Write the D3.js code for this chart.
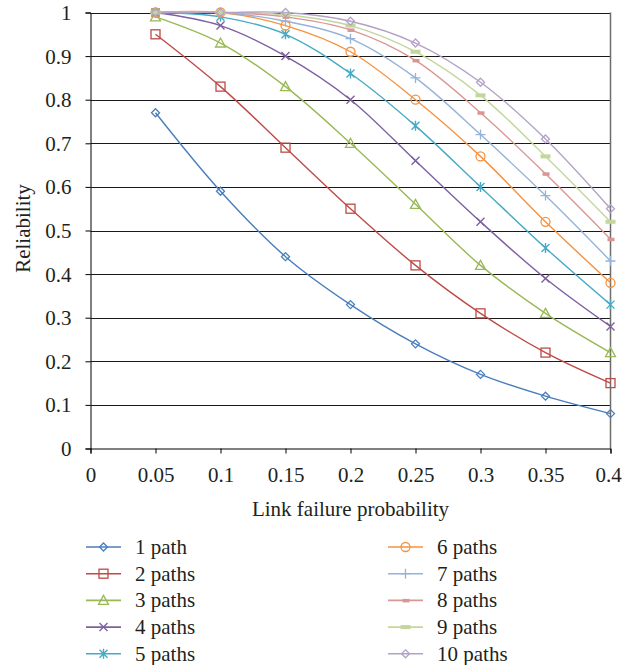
<!DOCTYPE html>
<html><head><meta charset="utf-8">
<script src="https://cdn.jsdelivr.net/npm/d3@7"></script>
<style>body{margin:0;background:#fff}text{font-family:"Liberation Serif","DejaVu Serif",serif;fill:#231f20}</style>
</head><body><svg id="c" width="622" height="665"></svg>
<script>
const xValues = [0.05,0.1,0.15,0.2,0.25,0.3,0.35,0.4];
const seriesNames = ["1 path","2 paths","3 paths","4 paths","5 paths","6 paths","7 paths","8 paths","9 paths","10 paths"];
const s1 = [0.77,0.59,0.44,0.33,0.24,0.17,0.12,0.08];
const s2 = [0.95,0.83,0.69,0.55,0.42,0.31,0.22,0.15];
const s3 = [0.99,0.93,0.83,0.70,0.56,0.42,0.31,0.22];
const s4 = [1.0,0.97,0.90,0.80,0.66,0.52,0.39,0.28];
const s5 = [1.0,0.99,0.95,0.86,0.74,0.60,0.46,0.33];
const s6 = [1.0,1.0,0.97,0.91,0.80,0.67,0.52,0.38];
const s7 = [1.0,1.0,0.98,0.94,0.85,0.72,0.58,0.43];
const s8 = [1.0,1.0,0.99,0.96,0.89,0.77,0.63,0.48];
const s9 = [1.0,1.0,0.995,0.97,0.91,0.81,0.67,0.52];
const s10 = [1.0,1.0,1.0,0.98,0.93,0.84,0.71,0.55];
const seriesValues = [s1,s2,s3,s4,s5,s6,s7,s8,s9,s10];
const xTicks = [0,0.05,0.1,0.15,0.2,0.25,0.3,0.35,0.4];
const yTicks = [0,0.1,0.2,0.3,0.4,0.5,0.6,0.7,0.8,0.9,1];
const colors = ["#4a7ebb","#be4b48","#98b954","#7d60a0","#46aac5","#f69240","#95b3d7","#d99694","#c3d69b","#b3a2c7"];
const markers = ["diamond","square","triangle","x","asterisk","circle","plus","dash","bar","diamond"];

const svg = d3.select("#c");
const L=90.5, R=610.5, T=12.5, B=448.5;
const FS = 21;
const x = d3.scaleLinear().domain([0,0.4]).range([L,R]);
const y = d3.scaleLinear().domain([0,1]).range([B,T]);

// gridlines
svg.append("g").selectAll("line").data(yTicks.filter(d=>d>0)).join("line")
  .attr("x1",L).attr("x2",R).attr("y1",d=>Math.round(y(d))+0.5).attr("y2",d=>Math.round(y(d))+0.5)
  .attr("stroke","#1a1a1a").attr("stroke-width",1);
// right border
svg.append("line").attr("x1",R).attr("x2",R).attr("y1",T).attr("y2",B).attr("stroke","#6d6d6d").attr("stroke-width",1.5);

// axes
const yAxis = d3.axisLeft(y).tickValues(yTicks).tickSize(5).tickFormat(d=>+d.toFixed(1)+"");
const gy = svg.append("g").attr("transform",`translate(${L},0)`).call(yAxis);
gy.select(".domain").attr("stroke","#000");
gy.selectAll(".tick line").attr("stroke","#000");
gy.selectAll("text").attr("font-size",FS).attr("x",-19).attr("dy","0.33em").style("font-family",'"Liberation Serif",serif').attr("fill","#231f20");

const xAxis = d3.axisBottom(x).tickValues(xTicks).tickSize(5).tickFormat(d=>+d.toFixed(2)+"");
const gx = svg.append("g").attr("transform",`translate(0,${B})`).call(xAxis);
gx.select(".domain").attr("stroke","#000");
gx.selectAll(".tick line").attr("stroke","#000");
gx.selectAll("text").attr("font-size",FS).attr("y",19).style("font-family",'"Liberation Serif",serif').attr("fill","#231f20")
  .attr("dx",d=>d===0.4?-2.5:0);

svg.append("text").attr("x",(L+R)/2).attr("y",516).attr("text-anchor","middle").attr("font-size",FS).text("Link failure probability");
svg.append("text").attr("transform",`translate(30,${(T+B)/2 - 2}) rotate(-90)`).attr("text-anchor","middle").attr("font-size",FS).text("Reliability");

function drawMarker(g, type, cx, cy, color){
  const s = 4;
  if(type==="diamond"){
    g.append("path").attr("d",`M${cx},${cy-s}L${cx+s},${cy}L${cx},${cy+s}L${cx-s},${cy}Z`).attr("fill","none").attr("stroke",color).attr("stroke-width",1.3);
  } else if(type==="square"){
    g.append("rect").attr("x",cx-4.5).attr("y",cy-4.5).attr("width",9).attr("height",9).attr("fill","none").attr("stroke",color).attr("stroke-width",1.3);
  } else if(type==="triangle"){
    g.append("path").attr("d",`M${cx},${cy-5}L${cx+5},${cy+4}L${cx-5},${cy+4}Z`).attr("fill","none").attr("stroke",color).attr("stroke-width",1.3);
  } else if(type==="x"){
    g.append("path").attr("d",`M${cx-4},${cy-4}L${cx+4},${cy+4}M${cx-4},${cy+4}L${cx+4},${cy-4}`).attr("stroke",color).attr("stroke-width",1.4);
  } else if(type==="asterisk"){
    g.append("path").attr("d",`M${cx-4},${cy-4}L${cx+4},${cy+4}M${cx-4},${cy+4}L${cx+4},${cy-4}M${cx},${cy-5}L${cx},${cy+5}`).attr("stroke",color).attr("stroke-width",1.4);
  } else if(type==="circle"){
    g.append("circle").attr("cx",cx).attr("cy",cy).attr("r",4.5).attr("fill","none").attr("stroke",color).attr("stroke-width",1.3);
  } else if(type==="plus"){
    g.append("path").attr("d",`M${cx-5},${cy}L${cx+5},${cy}M${cx},${cy-5}L${cx},${cy+5}`).attr("stroke",color).attr("stroke-width",1.3);
  } else if(type==="dash"){
    g.append("rect").attr("x",cx-3).attr("y",cy-1.5).attr("width",7).attr("height",3.5).attr("fill",color);
  } else if(type==="bar"){
    g.append("rect").attr("x",cx-5).attr("y",cy-2).attr("width",10).attr("height",4).attr("fill",color);
  }
}

const line = d3.line().x((d,i)=>x(xValues[i])).y(d=>y(d)).curve(d3.curveCatmullRom.alpha(0.5));
const plot = svg.append("g");
seriesValues.forEach((vals,k)=>{
  plot.append("path").attr("d",line(vals)).attr("fill","none").attr("stroke",colors[k]).attr("stroke-width",1.4);
});
seriesValues.forEach((vals,k)=>{
  const g = plot.append("g");
  vals.forEach((v,i)=>drawMarker(g, markers[k], x(xValues[i]), y(v), colors[k]));
});

// legend
const leg = svg.append("g");
seriesNames.forEach((n,k)=>{
  const col = Math.floor(k/5), row = k%5;
  const lx = col===0 ? 86 : 388;
  const ly = 547 + row*26.7;
  leg.append("line").attr("x1",lx).attr("x2",lx+35).attr("y1",ly).attr("y2",ly).attr("stroke",colors[k]).attr("stroke-width",1.6);
  drawMarker(leg, markers[k], lx+17.5, ly, colors[k]);
  leg.append("text").attr("x",lx+49).attr("y",ly).attr("dy","0.33em").attr("font-size",FS).text(n);
});
</script></body></html>
